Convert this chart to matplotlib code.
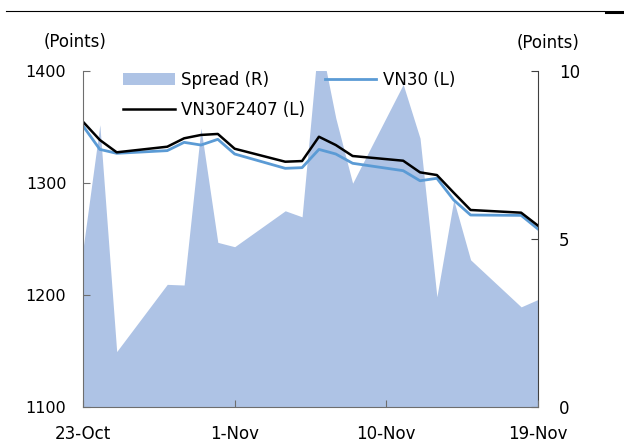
import matplotlib
matplotlib.use('Agg')
import matplotlib.pyplot as plt
from matplotlib.lines import Line2D
import datetime as dt

dates = ['2024-10-23', '2024-10-24', '2024-10-25', '2024-10-28', '2024-10-29',
         '2024-10-30', '2024-10-31', '2024-11-01', '2024-11-04', '2024-11-05',
         '2024-11-06', '2024-11-07', '2024-11-08', '2024-11-11', '2024-11-12',
         '2024-11-13', '2024-11-14', '2024-11-15', '2024-11-18', '2024-11-19']
vn30 = [1351, 1330, 1326.5, 1328.9, 1336.3, 1333.9, 1339, 1325.9, 1313.1, 1313.7,
        1330, 1325.9, 1317.6, 1311, 1302, 1304.2, 1284.8, 1271.4, 1271.1, 1258.9]
vn30f = [1354.7, 1338.4, 1327.4, 1332.4, 1339.9, 1342.9, 1343.8, 1330.6, 1319, 1319.6,
         1341.3, 1333.9, 1324.1, 1319.9, 1309.5, 1307.1, 1291.3, 1275.9, 1273.5, 1261.9]
spread = [4.7, 8.4, 1.65, 3.65, 3.63, 8.3, 4.9, 4.77, 5.84, 5.66,
          11.1, 8.6, 6.66, 9.6, 8.0, 3.28, 6.16, 4.38, 2.98, 3.2]
tick_dates = ['2024-10-23', '2024-11-01', '2024-11-10', '2024-11-19']
tick_labels = ['23-Oct', '1-Nov', '10-Nov', '19-Nov']

x = [dt.datetime.strptime(d, '%Y-%m-%d') for d in dates]
xt = [dt.datetime.strptime(d, '%Y-%m-%d') for d in tick_dates]

plt.rcParams['font.family'] = 'DejaVu Sans'
plt.rcParams['font.size'] = 12

fig = plt.figure(figsize=(6.24, 4.47), dpi=100)
ax = fig.add_axes([83 / 624, 1 - 407 / 447, 455 / 624, 336 / 447])
ax2 = ax.twinx()

# spread area on the right axis, behind the lines
area = ax2.fill_between(x, spread, 0, color='#aec3e5', linewidth=0, label='Spread (R)')
ax2.set_ylim(0, 10)
ax2.set_yticks([0, 5, 10])

ax.set_zorder(ax2.get_zorder() + 1)
ax.patch.set_visible(False)
l1, = ax.plot(x, vn30, color='#5b9bd5', lw=2.0, label='VN30 (L)')
l2, = ax.plot(x, vn30f, color='black', lw=1.8, label='VN30F2407 (L)')
ax.set_ylim(1100, 1400)
ax.set_yticks([1100, 1200, 1300, 1400])
ax.set_xlim(x[0], x[-1])
ax.set_xticks(xt)
ax.set_xticklabels(tick_labels)

for a in (ax, ax2):
    a.spines['top'].set_visible(False)
ax.spines['right'].set_visible(False)
ax2.spines['left'].set_visible(False)
ax2.spines['bottom'].set_visible(False)
ax.spines['left'].set_color('#6e6e6e')
ax.spines['bottom'].set_color('#6e6e6e')
ax2.spines['right'].set_color('#404040')

ax.tick_params(axis='y', direction='in', length=5, color='#6e6e6e', pad=12, labelsize=11.5)
ax.tick_params(axis='x', direction='in', length=5, color='#6e6e6e', pad=13, labelsize=12)
ax2.tick_params(axis='y', direction='in', length=5, color='#404040', pad=15, labelsize=12)

fig.text(75 / 624, 1 - 42 / 447, '(Points)', ha='center', va='center', fontsize=12)
fig.text(548 / 624, 1 - 43 / 447, '(Points)', ha='center', va='center', fontsize=12)

ax.legend([area, l2, l1], ['Spread (R)', 'VN30F2407 (L)', 'VN30 (L)'], ncol=2,
          loc='upper left', bbox_to_anchor=((123 - 83) / 455, 1.0), frameon=False,
          borderpad=0, borderaxespad=0, handlelength=3.1, handletextpad=0.4,
          columnspacing=1.15, labelspacing=0.7, fontsize=12)

# rule at the top of the figure
fig.add_artist(Line2D([6 / 624, 604 / 624], [1 - 11 / 447, 1 - 11 / 447], color='black', lw=0.8))
fig.add_artist(Line2D([606 / 624, 1.0], [1 - 11.5 / 447, 1 - 11.5 / 447], color='black', lw=2.2))

fig.savefig('out.png', dpi=100)
